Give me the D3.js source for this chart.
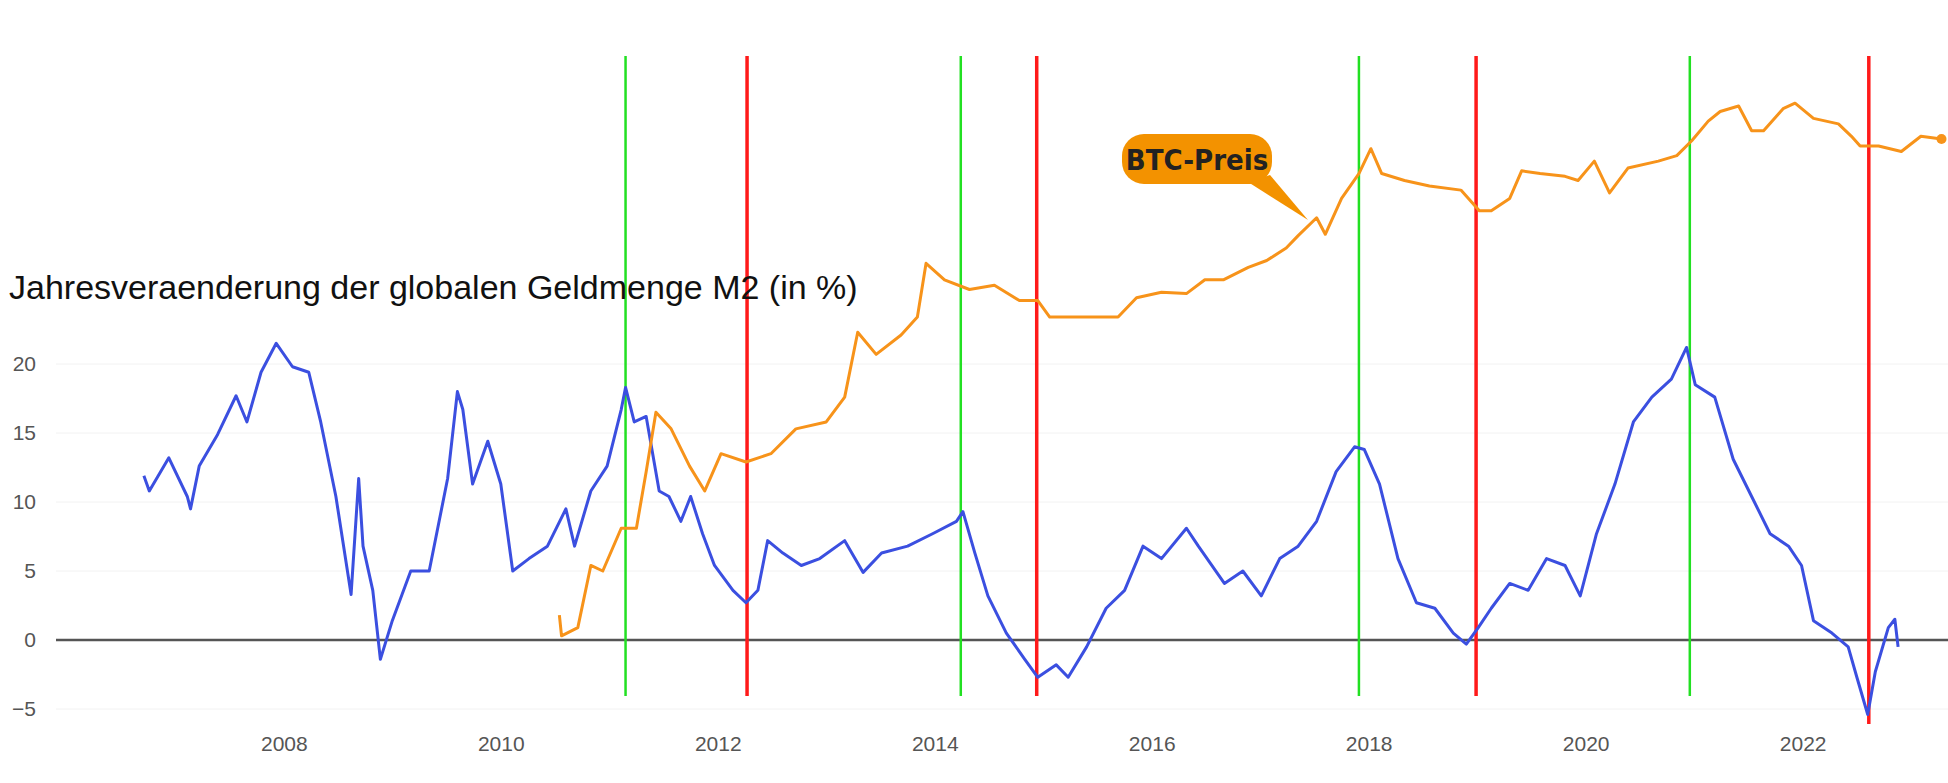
<!DOCTYPE html>
<html><head><meta charset="utf-8">
<script src="https://cdn.jsdelivr.net/npm/d3@7"></script>
<style>body{margin:0;background:#fff}svg{display:block}</style>
</head><body><svg id="c" width="1948" height="783"></svg>
<script>
const m2Years=[2006.71,2006.76,2006.94,2007.11,2007.14,2007.22,2007.39,2007.56,2007.66,2007.79,2007.93,2008.08,2008.23,2008.34,2008.48,2008.62,2008.69,2008.73,2008.82,2008.89,2009.0,2009.17,2009.34,2009.51,2009.6,2009.65,2009.74,2009.88,2010.0,2010.11,2010.26,2010.43,2010.6,2010.68,2010.83,2010.98,2011.11,2011.15,2011.23,2011.34,2011.46,2011.55,2011.66,2011.75,2011.86,2011.97,2012.14,2012.26,2012.37,2012.46,2012.6,2012.77,2012.94,2013.17,2013.34,2013.51,2013.75,2013.98,2014.2,2014.26,2014.37,2014.49,2014.66,2014.83,2014.95,2015.12,2015.23,2015.4,2015.58,2015.75,2015.92,2016.09,2016.32,2016.43,2016.67,2016.84,2017.01,2017.18,2017.35,2017.52,2017.7,2017.87,2017.96,2018.1,2018.27,2018.44,2018.61,2018.78,2018.9,2019.01,2019.13,2019.3,2019.47,2019.64,2019.81,2019.95,2020.1,2020.27,2020.44,2020.61,2020.79,2020.93,2021.01,2021.19,2021.36,2021.53,2021.7,2021.87,2021.99,2022.1,2022.27,2022.42,2022.5,2022.6,2022.67,2022.79,2022.85,2022.88];
const m2Values=[11.9,10.8,13.2,10.4,9.5,12.6,14.9,17.7,15.8,19.4,21.5,19.8,19.4,15.8,10.4,3.3,11.7,6.8,3.6,-1.4,1.4,5.0,5.0,11.7,18.0,16.7,11.3,14.4,11.3,5.0,5.9,6.8,9.5,6.8,10.8,12.6,16.7,18.3,15.8,16.2,10.8,10.4,8.6,10.4,7.7,5.4,3.6,2.7,3.6,7.2,6.3,5.4,5.9,7.2,4.9,6.3,6.8,7.7,8.6,9.3,6.3,3.2,0.5,-1.4,-2.7,-1.8,-2.7,-0.5,2.3,3.6,6.8,5.9,8.1,6.8,4.1,5.0,3.2,5.9,6.8,8.6,12.2,14.0,13.8,11.3,5.9,2.7,2.3,0.5,-0.3,0.9,2.3,4.1,3.6,5.9,5.4,3.2,7.7,11.3,15.8,17.6,18.9,21.2,18.5,17.6,13.1,10.4,7.7,6.8,5.4,1.4,0.5,-0.5,-2.7,-5.4,-2.3,0.9,1.5,-0.5];
const btcYears=[2010.54,2010.56,2010.71,2010.83,2010.94,2011.11,2011.25,2011.34,2011.43,2011.57,2011.74,2011.88,2012.03,2012.26,2012.49,2012.72,2013.0,2013.17,2013.29,2013.46,2013.69,2013.84,2013.92,2014.09,2014.32,2014.55,2014.78,2014.95,2015.06,2015.35,2015.69,2015.86,2016.09,2016.32,2016.49,2016.66,2016.89,2017.06,2017.24,2017.35,2017.52,2017.6,2017.75,2017.91,2018.02,2018.12,2018.33,2018.56,2018.85,2019.02,2019.13,2019.3,2019.41,2019.58,2019.81,2019.93,2020.08,2020.22,2020.39,2020.67,2020.84,2020.98,2021.13,2021.24,2021.41,2021.53,2021.64,2021.82,2021.93,2022.1,2022.33,2022.45,2022.53,2022.7,2022.91,2023.09,2023.28];
const btcValues=[1.8,0.3,0.9,5.4,5.0,8.1,8.1,12.2,16.5,15.3,12.6,10.8,13.5,12.9,13.5,15.3,15.8,17.6,22.3,20.7,22.1,23.4,27.3,26.1,25.4,25.7,24.6,24.6,23.4,23.4,23.4,24.8,25.2,25.1,26.1,26.1,27.0,27.5,28.4,29.3,30.6,29.4,32.0,33.8,35.6,33.8,33.3,32.9,32.6,31.1,31.1,32.0,34.0,33.8,33.6,33.3,34.7,32.4,34.2,34.7,35.1,36.2,37.6,38.3,38.7,36.9,36.9,38.5,38.9,37.8,37.4,36.5,35.8,35.8,35.4,36.5,36.3];
const greenDates=[2011.15,2014.24,2017.91,2020.96];
const redDates=[2012.27,2014.94,2018.99,2022.61];
const yTicks=[-5,0,5,10,15,20];
const xTicks=[2008,2010,2012,2014,2016,2018,2020,2022];
const titleText="Jahresveraenderung der globalen Geldmenge M2 (in %)";
const btcLabel="BTC-Preis";

const svg=d3.select("#c");
const x=d3.scaleLinear().domain([2005.9,2023.34]).range([56,1948]);
const y=d3.scaleLinear().domain([0,20]).range([640,364]);
const btcY=d3.scaleLinear().domain([0,20]).range([640,364]);

svg.append("g").selectAll("line").data(yTicks.filter(d=>d!==0)).join("line")
 .attr("x1",56).attr("x2",1948).attr("y1",d=>y(d)).attr("y2",d=>y(d)).attr("stroke","#f2f2f2");
const ya=svg.append("g").attr("transform","translate(36,0)")
 .call(d3.axisLeft(y).tickValues(yTicks).tickSize(0).tickPadding(0));
ya.select(".domain").remove();
ya.selectAll("text").attr("font-family","Liberation Sans, Arial").attr("font-size",21).attr("fill","#555");
const xa=svg.append("g").attr("transform","translate(0,736)")
 .call(d3.axisBottom(x).tickValues(xTicks).tickFormat(d3.format("d")).tickSize(0).tickPadding(0));
xa.select(".domain").remove();
xa.selectAll("text").attr("font-family","Liberation Sans, Arial").attr("font-size",21).attr("fill","#555");

svg.append("line").attr("x1",56).attr("x2",1948).attr("y1",y(0)).attr("y2",y(0)).attr("stroke","#555").attr("stroke-width",2.5);

svg.append("g").selectAll("line").data(greenDates).join("line")
 .attr("x1",d=>x(d)).attr("x2",d=>x(d)).attr("y1",56).attr("y2",696).attr("stroke","#22e022").attr("stroke-width",2.5);
svg.append("g").selectAll("line").data(redDates).join("line")
 .attr("x1",d=>x(d)).attr("x2",d=>x(d)).attr("y1",56).attr("y2",(d,i)=>i===3?724:696).attr("stroke","#ff1a1a").attr("stroke-width",3.5);

const m2=m2Years.map((d,i)=>[d,m2Values[i]]);
const btc=btcYears.map((d,i)=>[d,btcValues[i]]);
svg.append("path").datum(m2).attr("fill","none").attr("stroke","#3b4fe0").attr("stroke-width",3)
 .attr("stroke-linejoin","round").attr("d",d3.line().x(d=>x(d[0])).y(d=>y(d[1])));
svg.append("path").datum(btc).attr("fill","none").attr("stroke","#f7931a").attr("stroke-width",3)
 .attr("stroke-linejoin","round").attr("d",d3.line().x(d=>x(d[0])).y(d=>btcY(d[1])));
const last=btc[btc.length-1];
svg.append("circle").attr("cx",x(last[0])).attr("cy",btcY(last[1])).attr("r",5).attr("fill","#f7931a");

svg.append("text").attr("x",9).attr("y",299).text(titleText)
 .attr("font-family","Liberation Sans, Arial").attr("font-size",34).attr("fill","#111");

const g=svg.append("g");
g.append("path").attr("d","M1270,175 L1308,220 L1248,182 Z").attr("fill","#f39200");
g.append("rect").attr("x",1122).attr("y",134).attr("width",150).attr("height",50).attr("rx",22).attr("fill","#f39200");
g.append("text").attr("x",1197).attr("y",170).attr("text-anchor","middle").text(btcLabel)
 .attr("font-family","DejaVu Sans Condensed, Roboto").attr("font-weight","bold").attr("font-size",29).attr("fill","#222");
</script></body></html>
